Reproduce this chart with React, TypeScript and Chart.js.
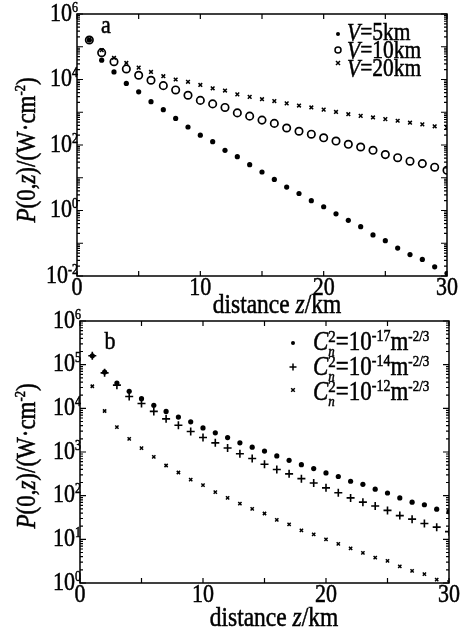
import React, { useEffect, useRef } from "react";
import { Chart, registerables } from "chart.js";
Chart.register(...registerables);

// ---------- data ----------
const distanceKm = [1, 2, 3, 4, 5, 6, 7, 8, 9, 10, 11, 12, 13, 14, 15, 16, 17, 18, 19, 20, 21, 22, 23, 24, 25, 26, 27, 28, 29, 30];

// panel a: visibility
const visV5 = [1.6e5, 3.9e4, 1.7e4, 7.6e3, 4.2e3, 2.1e3, 1.2e3, 650, 355, 200, 126, 69, 44, 25, 15, 8.9, 5.2, 3.3, 2.0, 1.3, 0.79, 0.5, 0.32, 0.18, 0.12, 0.071, 0.045, 0.032, 0.019, 0.012];
const visV10 = [1.6e5, 6.6e4, 3.5e4, 2.1e4, 1.35e4, 9.5e3, 6.5e3, 4.8e3, 3.3e3, 2.3e3, 1.8e3, 1.4e3, 955, 760, 575, 457, 331, 263, 214, 166, 132, 105, 87, 69, 51, 41, 32, 27, 21, 17];
const visV20 = [1.7e5, 7.9e4, 4.6e4, 3.2e4, 2.3e4, 1.7e4, 1.26e4, 1.0e4, 8.5e3, 6.8e3, 5.4e3, 4.6e3, 3.5e3, 2.95e3, 2.5e3, 2.2e3, 1.86e3, 1.6e3, 1.4e3, 1.2e3, 1.02e3, 870, 776, 692, 617, 550, 479, 427, 372, 339];

// panel b: turbulence
const cn17 = [1.6e5, 6.8e4, 3.8e4, 2.45e4, 1.66e4, 1.17e4, 8.5e3, 6.3e3, 4.9e3, 3.55e3, 2.75e3, 2.14e3, 1.62e3, 1.29e3, 1.05e3, 813, 646, 513, 417, 331, 275, 214, 182, 141, 115, 89, 71, 62, 49, 43];
const cn14 = [1.6e5, 6.5e4, 3.4e4, 1.86e4, 1.29e4, 8.5e3, 5.75e3, 4.1e3, 2.95e3, 2.14e3, 1.62e3, 1.23e3, 912, 708, 525, 398, 316, 245, 195, 151, 117, 89, 71, 58, 46, 35, 29, 23, 19, 15];
const cn12 = [3.2e4, 8.7e3, 3.7e3, 2.0e3, 1.23e3, 776, 490, 339, 234, 174, 120, 89, 66, 50, 39, 28, 22, 16, 13, 10, 7.9, 6.2, 4.9, 3.8, 3.2, 2.4, 1.9, 1.6, 1.2, 1.05];

const xTickValues = [0, 5, 10, 15, 20, 25, 30];
const xLabelValues = [0, 10, 20, 30];
const yExpsA = [-2, 0, 2, 4, 6];
const yExpsB = [0, 1, 2, 3, 4, 5, 6];

const FONT = '"Liberation Serif", "DejaVu Serif", "Times New Roman", serif';
const STRETCH = 1.15;

type Run = { t: string; it?: boolean; size: number; dy?: number; noAdv?: boolean };

function setFont(ctx: CanvasRenderingContext2D, r: Run) {
  ctx.font = `${r.it ? "italic " : ""}${r.size}px ${FONT}`;
}
function runsWidth(ctx: CanvasRenderingContext2D, runs: Run[]) {
  let w = 0;
  for (const r of runs) {
    setFont(ctx, r);
    if (!r.noAdv) w += ctx.measureText(r.t).width;
  }
  return w;
}
function drawRuns(ctx: CanvasRenderingContext2D, x: number, y: number, runs: Run[], align: "left" | "center" | "right") {
  const total = runsWidth(ctx, runs);
  let cx = align === "left" ? x : align === "center" ? x - total / 2 : x - total;
  ctx.save();
  ctx.translate(0, y);
  ctx.scale(1, STRETCH);
  ctx.textBaseline = "middle";
  ctx.textAlign = "left";
  ctx.fillStyle = "#000";
  ctx.strokeStyle = "#000";
  ctx.lineWidth = 0.45;
  for (const r of runs) {
    setFont(ctx, r);
    const yy = (r.dy || 0) / STRETCH;
    ctx.fillText(r.t, cx, yy);
    ctx.strokeText(r.t, cx, yy);
    if (!r.noAdv) cx += ctx.measureText(r.t).width;
  }
  ctx.restore();
}

function drawMarker(ctx: CanvasRenderingContext2D, style: string, x: number, y: number, r: number) {
  ctx.save();
  ctx.strokeStyle = "#000";
  ctx.fillStyle = "#000";
  ctx.lineWidth = 1.5;
  ctx.beginPath();
  if (style === "dot") {
    ctx.arc(x, y, r, 0, Math.PI * 2);
    ctx.fill();
  } else if (style === "ring") {
    ctx.arc(x, y, r, 0, Math.PI * 2);
    ctx.stroke();
  } else if (style === "plus") {
    ctx.moveTo(x - r, y); ctx.lineTo(x + r, y);
    ctx.moveTo(x, y - r); ctx.lineTo(x, y + r);
    ctx.stroke();
  } else {
    ctx.moveTo(x - r, y - r); ctx.lineTo(x + r, y + r);
    ctx.moveTo(x - r, y + r); ctx.lineTo(x + r, y - r);
    ctx.stroke();
  }
  ctx.restore();
}

type LegendRow = { marker: string; r: number; my: number; ty: number; runs: Run[] };
type PanelCfg = {
  top: number; height: number;
  padTop: number; padRight: number; yWidth: number; xHeight: number;
  yMin: number; yMax: number; yExps: number[];
  datasets: any[];
  yTitle: [number, number]; xTitle: [number, number]; xLabelOffset: number;
  letter: string; letterPos: [number, number];
  legendMarkerX: number; legendTextX: number; legend: LegendRow[];
};

const yTitleRuns: Run[] = [
  { t: "P", it: true, size: 23 },
  { t: "(0,", size: 23 },
  { t: "z", it: true, size: 23 },
  { t: ")/(W·cm", size: 23 },
  { t: "-2", size: 12.5, dy: -7 },
  { t: ")", size: 23 },
];
const xTitleRuns: Run[] = [
  { t: "distance ", size: 23.5 },
  { t: "z", it: true, size: 23.5 },
  { t: "/km", size: 23.5 },
];

function cnRuns(exp: string): Run[] {
  return [
    { t: "C", it: true, size: 23 },
    { t: "n", it: true, size: 13, dy: 9, noAdv: true },
    { t: "2", size: 15, dy: -6 },
    { t: "=10", size: 23 },
    { t: exp, size: 14, dy: -6 },
    { t: "m", size: 23 },
    { t: "-2/3", size: 13, dy: -6 },
  ];
}

function toPts(vals: number[]) {
  return vals.map((v, i) => ({ x: distanceKm[i], y: v }));
}

const panelA: PanelCfg = {
  top: 0, height: 318,
  padTop: 14, padRight: 16, yWidth: 77, xHeight: 42,
  yMin: 1e-2, yMax: 1e6, yExps: yExpsA,
  datasets: [
    { label: "V=5km", data: toPts(visV5), pointStyle: "circle", pointRadius: 2.6, backgroundColor: "#000", borderColor: "#000", borderWidth: 0 },
    { label: "V=10km", data: toPts(visV10), pointStyle: "circle", pointRadius: 3.7, backgroundColor: "rgba(0,0,0,0)", borderColor: "#000", borderWidth: 1.7 },
    { label: "V=20km", data: toPts(visV20), pointStyle: "crossRot", pointRadius: 2.6, backgroundColor: "#000", borderColor: "#000", borderWidth: 1.5 },
  ],
  yTitle: [28, 150], xTitle: [277, 306], xLabelOffset: 12,
  letter: "a", letterPos: [106, 26],
  legendMarkerX: 338, legendTextX: 347,
  legend: [
    { marker: "dot", r: 2, my: 34, ty: 34, runs: [{ t: "V", it: true, size: 21.5 }, { t: "=5km", size: 21.5 }] },
    { marker: "ring", r: 3, my: 50, ty: 52, runs: [{ t: "V", it: true, size: 21.5 }, { t: "=10km", size: 21.5 }] },
    { marker: "x", r: 2, my: 63, ty: 70, runs: [{ t: "V", it: true, size: 21.5 }, { t: "=20km", size: 21.5 }] },
  ],
};

// panel b canvas starts a little higher (transparent overlap) so its top label is not clipped
const panelB: PanelCfg = {
  top: 300, height: 331,
  padTop: 21, padRight: 14, yWidth: 80, xHeight: 48,
  yMin: 1, yMax: 1e6, yExps: yExpsB,
  datasets: [
    { label: "Cn2=1e-17", data: toPts(cn17), pointStyle: "circle", pointRadius: 2.6, backgroundColor: "#000", borderColor: "#000", borderWidth: 0 },
    { label: "Cn2=1e-14", data: toPts(cn14), pointStyle: "cross", pointRadius: 4, backgroundColor: "#000", borderColor: "#000", borderWidth: 1.6 },
    { label: "Cn2=1e-12", data: toPts(cn12), pointStyle: "crossRot", pointRadius: 2.3, backgroundColor: "#000", borderColor: "#000", borderWidth: 1.5 },
  ],
  yTitle: [28, 156], xTitle: [274, 319], xLabelOffset: 12,
  letter: "b", letterPos: [110, 42],
  legendMarkerX: 293, legendTextX: 313,
  legend: [
    { marker: "dot", r: 2, my: 43, ty: 43, runs: cnRuns("-17") },
    { marker: "plus", r: 3.5, my: 67, ty: 68, runs: cnRuns("-14") },
    { marker: "x", r: 1.8, my: 90, ty: 93, runs: cnRuns("-12") },
  ],
};

function makeDecor(cfg: PanelCfg) {
  return {
    id: "decor" + cfg.letter,
    afterDraw(chart: any) {
      const ctx: CanvasRenderingContext2D = chart.ctx;
      const { left, right, top, bottom } = chart.chartArea;
      const xs = chart.scales.x;
      const ys = chart.scales.y;
      ctx.save();
      ctx.strokeStyle = "#000";
      ctx.lineWidth = 1.5;
      ctx.strokeRect(left, top, right - left, bottom - top);
      // x ticks (inward, top and bottom)
      ctx.lineWidth = 1.2;
      ctx.beginPath();
      for (const v of xTickValues) {
        const px = xs.getPixelForValue(v);
        ctx.moveTo(px, bottom); ctx.lineTo(px, bottom - 5);
        ctx.moveTo(px, top); ctx.lineTo(px, top + 5);
      }
      // y ticks
      const e0 = cfg.yExps[0];
      const e1 = cfg.yExps[cfg.yExps.length - 1];
      for (let e = e0; e <= e1; e++) {
        const py = ys.getPixelForValue(Math.pow(10, e));
        ctx.moveTo(left, py); ctx.lineTo(left + 6, py);
        ctx.moveTo(right, py); ctx.lineTo(right - 6, py);
        if (e < e1) {
          for (let k = 2; k <= 9; k++) {
            const pm = ys.getPixelForValue(k * Math.pow(10, e));
            ctx.moveTo(left, pm); ctx.lineTo(left + 3, pm);
            ctx.moveTo(right, pm); ctx.lineTo(right - 3, pm);
          }
        }
      }
      ctx.stroke();
      // x tick labels
      for (const v of xLabelValues) {
        drawRuns(ctx, xs.getPixelForValue(v), bottom + cfg.xLabelOffset, [{ t: String(v), size: 22 }], "center");
      }
      // y tick labels
      for (const e of cfg.yExps) {
        const py = ys.getPixelForValue(Math.pow(10, e));
        drawRuns(ctx, left + 1, py, [
          { t: "10", size: 22 },
          { t: e < 0 ? "-" + Math.abs(e) : String(e), size: 12, dy: -6 },
        ], "right");
      }
      // titles
      ctx.save();
      ctx.translate(cfg.yTitle[0], cfg.yTitle[1]);
      ctx.rotate(-Math.PI / 2);
      drawRuns(ctx, 0, 0, yTitleRuns, "center");
      ctx.restore();
      drawRuns(ctx, cfg.xTitle[0], cfg.xTitle[1], xTitleRuns, "center");
      // panel letter
      drawRuns(ctx, cfg.letterPos[0], cfg.letterPos[1], [{ t: cfg.letter, size: 22 }], "center");
      // legend
      for (const row of cfg.legend) {
        drawMarker(ctx, row.marker, cfg.legendMarkerX, row.my, row.r);
        drawRuns(ctx, cfg.legendTextX, row.ty, row.runs, "left");
      }
      ctx.restore();
    },
  };
}

function Panel({ cfg }: { cfg: PanelCfg }) {
  const ref = useRef<HTMLCanvasElement>(null);
  useEffect(() => {
    if (!ref.current) return;
    const chart = new Chart(ref.current, {
      type: "scatter",
      data: { datasets: cfg.datasets },
      options: {
        animation: false,
        responsive: false,
        devicePixelRatio: 1,
        layout: { padding: { top: cfg.padTop, right: cfg.padRight, left: 0, bottom: 0 } },
        plugins: { legend: { display: false }, tooltip: { enabled: false } },
        scales: {
          x: {
            type: "linear",
            min: 0,
            max: 30,
            grid: { display: false, drawTicks: false },
            border: { display: false },
            ticks: { display: false, stepSize: 5 },
            afterFit: (s: any) => { s.height = cfg.xHeight; },
          },
          y: {
            type: "logarithmic",
            min: cfg.yMin,
            max: cfg.yMax,
            grid: { display: false, drawTicks: false },
            border: { display: false },
            ticks: { display: false },
            afterFit: (s: any) => { s.width = cfg.yWidth; },
          },
        },
      } as any,
      plugins: [makeDecor(cfg)],
    });
    return () => chart.destroy();
  }, [cfg]);
  return (
    <canvas
      ref={ref}
      width={463}
      height={cfg.height}
      style={{ position: "absolute", left: 0, top: cfg.top, width: 463, height: cfg.height }}
    />
  );
}

export default function App() {
  return (
    <div style={{ position: "absolute", left: 0, top: 0, width: 463, height: 631, background: "#fff" }}>
      <Panel cfg={panelA} />
      <Panel cfg={panelB} />
    </div>
  );
}
